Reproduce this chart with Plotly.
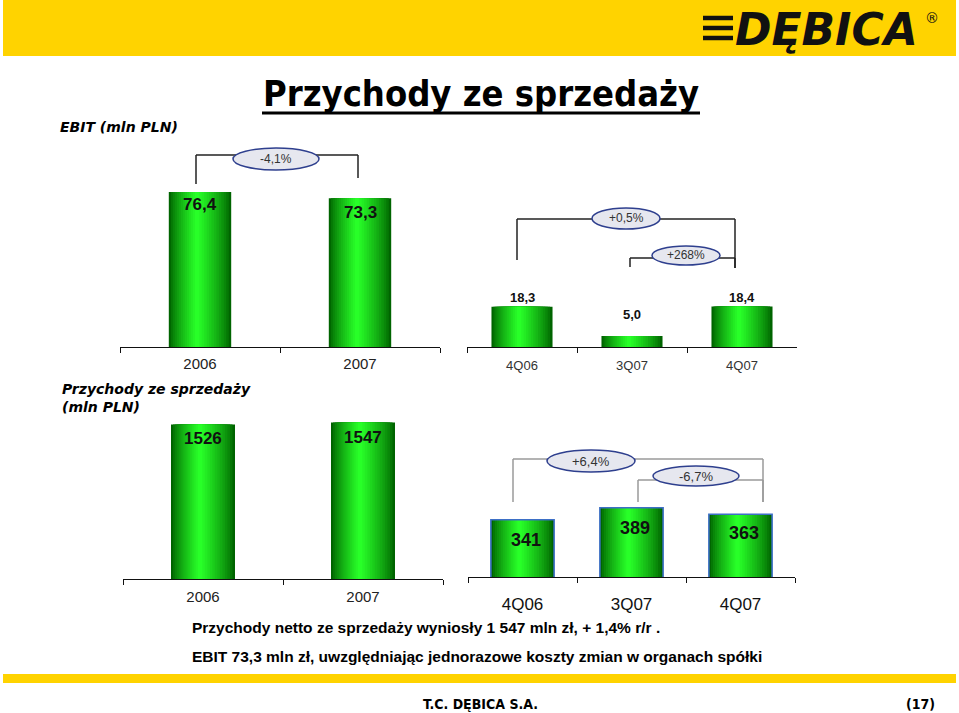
import plotly.graph_objects as go

W, H = 959, 713

# ---------------- data ----------------
ebit_years = ["2006", "2007"]
ebit_year_vals = [76.4, 73.3]
ebit_year_labels = ["76,4", "73,3"]

ebit_quarters = ["4Q06", "3Q07", "4Q07"]
ebit_q_vals = [18.3, 5.0, 18.4]
ebit_q_labels = ["18,3", "5,0", "18,4"]

rev_years = ["2006", "2007"]
rev_year_vals = [1526, 1547]
rev_year_labels = ["1526", "1547"]

rev_quarters = ["4Q06", "3Q07", "4Q07"]
rev_q_vals = [341, 389, 363]
rev_q_labels = ["341", "389", "363"]

ebit_year_change = "-4,1%"
ebit_q_changes = ["+0,5%", "+268%"]
rev_q_changes = ["+6,4%", "-6,7%"]

# ---------------- helpers ----------------
def px(x):
    return x / W


def py(y):
    return 1 - y / H


ARIAL = "Arial, Liberation Sans, sans-serif"
NARROW = "Liberation Sans Narrow, DejaVu Sans Condensed, Arial Narrow, Liberation Sans, sans-serif"
VERD = "Tahoma, DejaVu Sans, Verdana, sans-serif"

fig = go.Figure()

DARK = (0, 100, 0)
BRIGHT = (40, 255, 40)
N_LAYERS = 14
PEAK = 0.45


def lerp(a, b, t):
    return tuple(int(round(a[i] + (b[i] - a[i]) * t)) for i in range(3))


def add_bars(cats, vals, xa, ya, bw, border=None):
    for k in range(N_LAYERS):
        f = 1 - k / N_LAYERS
        t = (k / (N_LAYERS - 1)) ** 0.8
        c = lerp(DARK, BRIGHT, t)
        p_abs = -bw / 2 + PEAK * bw
        off = p_abs - f * PEAK * bw
        fig.add_trace(go.Bar(
            x=cats, y=vals, xaxis=xa, yaxis=ya,
            width=f * bw, offset=off,
            marker=dict(color="rgb(%d,%d,%d)" % c, line=dict(width=0)),
            hoverinfo="skip", showlegend=False,
        ))
    if border:
        fig.add_trace(go.Bar(
            x=cats, y=vals, xaxis=xa, yaxis=ya,
            width=bw, offset=-bw / 2,
            marker=dict(color="rgba(0,0,0,0)", line=dict(width=1.6, color=border)),
            hoverinfo="skip", showlegend=False,
        ))


add_bars(ebit_years, ebit_year_vals, "x", "y", 0.39)
add_bars(ebit_quarters, ebit_q_vals, "x2", "y2", 0.555)
add_bars(rev_years, rev_year_vals, "x3", "y3", 0.40)
add_bars(rev_quarters, rev_q_vals, "x4", "y4", 0.58, border="#3D6FC6")

annotations = []
shapes = []


# data labels (x given as category index)
def labels(cats, vals, texts, xr, yr, size, shifts, xshift=0, color="#111"):
    for i, (v, t, s) in enumerate(zip(vals, texts, shifts)):
        annotations.append(dict(
            x=i, y=v, xref=xr, yref=yr, text="<b>%s</b>" % t, showarrow=False,
            yanchor="middle", xanchor="center", yshift=s, xshift=xshift,
            font=dict(family=ARIAL, size=size, color=color),
        ))


labels(ebit_years, ebit_year_vals, ebit_year_labels, "x", "y", 17, [-13, -14])
labels(ebit_quarters, ebit_q_vals, ebit_q_labels, "x2", "y2", 13, [9, 22, 9])
labels(rev_years, rev_year_vals, rev_year_labels, "x3", "y3", 17, [-14, -15])
labels(rev_quarters, rev_q_vals, rev_q_labels, "x4", "y4", 18, [-20, -20, -19], xshift=3)


# axes
def xax(x0, x1, anchor, size, color, standoff, n):
    return dict(domain=[px(x0), px(x1)], anchor=anchor, type="category",
                range=[-0.5, n - 0.5], showgrid=False, zeroline=False, showline=True,
                linecolor="#111", linewidth=1.3, ticks="outside", ticklen=5,
                tickwidth=1.3, tickcolor="#111", tickson="boundaries",
                tickfont=dict(family=ARIAL, size=size, color=color),
                ticklabelstandoff=standoff, fixedrange=True)


def yax(y_bottom, y_top, rng, anchor):
    return dict(domain=[py(y_bottom), py(y_top)], range=rng, anchor=anchor,
                visible=False, showgrid=False, zeroline=False, fixedrange=True)


xa1 = xax(120, 440, "y", 15, "#222", 3, 2)
xa2 = xax(467, 797, "y2", 13, "#333", 6, 3)
xa3 = xax(123, 443, "y3", 15, "#222", 4, 2)
xa4 = xax(468, 795, "y4", 17, "#111", 11, 3)


# ---------------- decorations ----------------
def rect(x0, y0, x1, y1, color):
    shapes.append(dict(type="rect", xref="paper", yref="paper",
                       x0=px(x0), x1=px(x1), y0=py(y1), y1=py(y0),
                       fillcolor=color, line=dict(width=0), layer="below"))


def line(x0, y0, x1, y1, color, width=1.5):
    shapes.append(dict(type="line", xref="paper", yref="paper",
                       x0=px(x0), x1=px(x1), y0=py(y0), y1=py(y1),
                       line=dict(color=color, width=width)))


def bracket(xl, ylb, xr, yrb, ytop, color):
    line(xl, ylb, xl, ytop, color)
    line(xl, ytop, xr, ytop, color)
    line(xr, ytop, xr, yrb, color)


def ellipse(x0, y0, x1, y1, text, size=12):
    shapes.append(dict(type="circle", xref="paper", yref="paper",
                       x0=px(x0), x1=px(x1), y0=py(y1), y1=py(y0),
                       fillcolor="#E6E7EF", line=dict(color="#2E3F8E", width=1.5)))
    annotations.append(dict(x=px((x0 + x1) / 2), y=py((y0 + y1) / 2), xref="paper", yref="paper",
                            text=text, showarrow=False, xanchor="center", yanchor="middle",
                            font=dict(family=ARIAL, size=size, color="#333")))


def text(x, y, t, size, family=ARIAL, color="#000", xanchor="left", align="left"):
    annotations.append(dict(x=px(x), y=py(y), xref="paper", yref="paper", text=t,
                            showarrow=False, xanchor=xanchor, yanchor="middle", align=align,
                            font=dict(family=family, size=size, color=color)))


# header band and logo
rect(3, 0, 956, 56, "#FFD300")
for yy in (18, 28, 38):
    line(703, yy, 733, yy, "#111", 4.5)
text(733, 30, "<b><i>DĘBICA</i></b>", 44, family="DejaVu Sans, sans-serif", color="#111")
text(932, 18, "®", 14, family="DejaVu Sans, sans-serif", color="#111", xanchor="center")

# title
text(481, 94, "<b>Przychody ze sprzedaży</b>", 36, family=NARROW, xanchor="center")
line(262, 113, 700, 113, "#000", 3)

# left headings
text(58, 127, "<b><i>EBIT (mln PLN)</i></b>", 14, family=VERD)
text(60, 398, "<b><i>Przychody ze sprzedaży<br>(mln PLN)</i></b>", 14, family=VERD)

# brackets EBIT yearly
bracket(196, 184, 358, 178, 155, "#222")
ellipse(233, 148, 319, 170, ebit_year_change, 12)

# brackets EBIT quarterly
bracket(517, 260, 735, 268, 219, "#222")
ellipse(592, 208, 660, 229, ebit_q_changes[0], 12)
bracket(630, 267, 735, 268, 258, "#222")
ellipse(652, 246, 720, 265, ebit_q_changes[1], 12)

# brackets revenue quarterly
bracket(513, 502, 763, 502, 459, "#9A9A9A")
ellipse(547, 450, 635, 472, rev_q_changes[0], 13)
bracket(638, 502, 763, 502, 480, "#9A9A9A")
ellipse(653, 466, 739, 486, rev_q_changes[1], 13)

# bottom comments
text(190, 627, "<b>Przychody netto ze sprzedaży wyniosły 1 547 mln zł, + 1,4% r/r .</b>", 15.5)
text(190, 656, "<b>EBIT 73,3 mln zł, uwzględniając jednorazowe koszty zmian w organach spółki</b>", 15.5)

# footer
rect(3, 674, 956, 683, "#FFD300")
text(480, 704, "<b>T.C. DĘBICA S.A.</b>", 14, family=NARROW, xanchor="center")
text(920, 704, "<b>(17)</b>", 14, family=NARROW, xanchor="center")

fig.update_layout(
    width=W, height=H, margin=dict(l=0, r=0, t=0, b=0),
    paper_bgcolor="white", plot_bgcolor="rgba(0,0,0,0)",
    barmode="overlay", showlegend=False,
    xaxis=xa1, yaxis=yax(347, 144, [0, 100], "x"),
    xaxis2=xa2, yaxis2=yax(347, 259, [0, 40], "x2"),
    xaxis3=xa3, yaxis3=yax(579, 407, [0, 1700], "x3"),
    xaxis4=xa4, yaxis4=yax(577, 505, [112, 400], "x4"),
    shapes=shapes, annotations=annotations,
)

fig.write_html("out.html")
